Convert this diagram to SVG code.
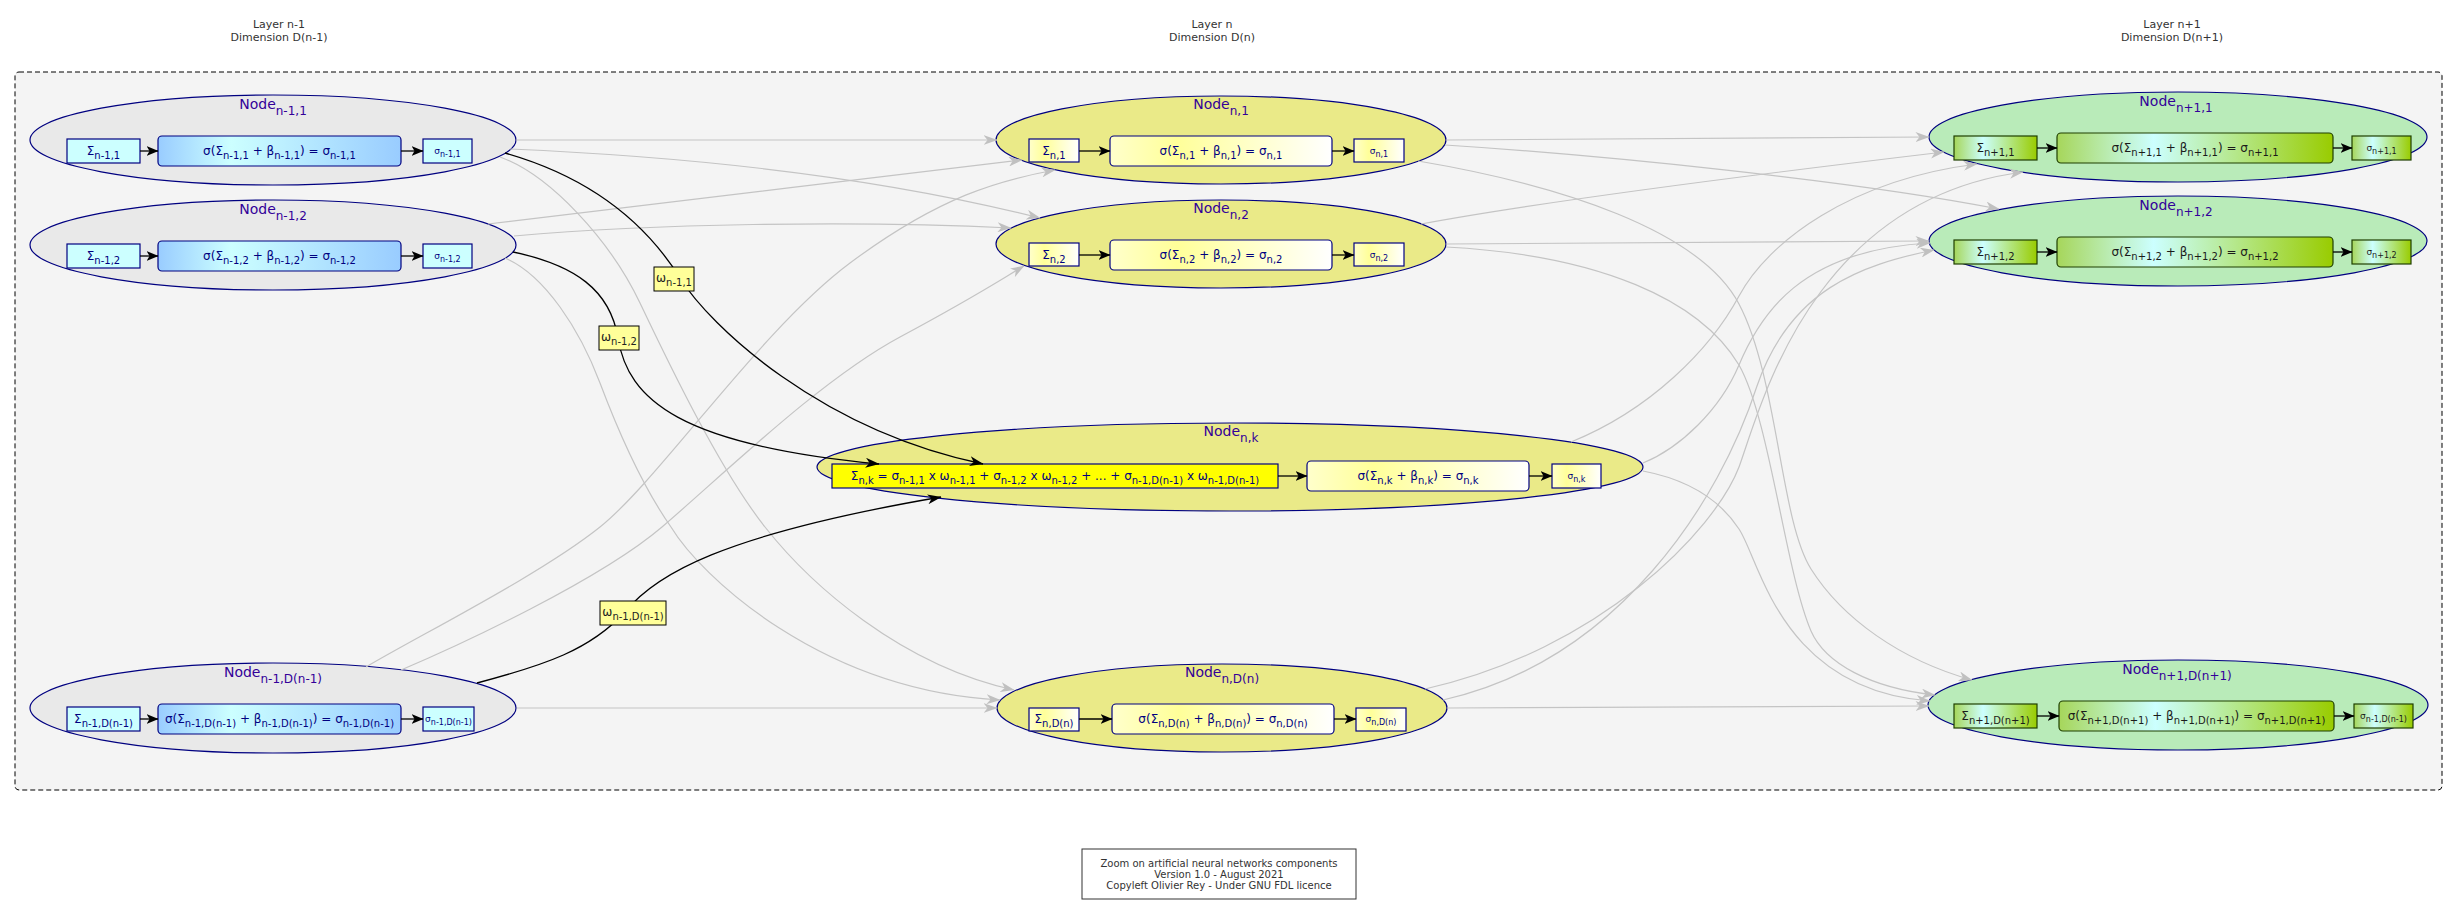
<svg xmlns="http://www.w3.org/2000/svg" width="2458" height="915" viewBox="0 0 2458 915">
<defs>
<linearGradient id="gBlue" x1="0" y1="0" x2="1" y2="0"><stop offset="0" stop-color="#99ccff"/><stop offset="0.3" stop-color="#ccffff"/><stop offset="1" stop-color="#99ccff"/></linearGradient>
<linearGradient id="gYel" x1="0" y1="0" x2="1" y2="0"><stop offset="0" stop-color="#ffffcc"/><stop offset="0.3" stop-color="#ffff99"/><stop offset="1" stop-color="#ffffff"/></linearGradient>
<linearGradient id="gGrn" x1="0" y1="0" x2="1" y2="0"><stop offset="0" stop-color="#a6d65a"/><stop offset="0.35" stop-color="#ccffff"/><stop offset="1" stop-color="#99cc00"/></linearGradient>
<marker id="ag" viewBox="0 0 14 10" refX="13.5" refY="5" markerWidth="14" markerHeight="10" markerUnits="userSpaceOnUse" orient="auto"><path d="M0,0 L14,5 L0,10 L4,5 Z" fill="#c0c0c0"/></marker>
<marker id="ak" viewBox="0 0 14 10" refX="13.5" refY="5" markerWidth="14" markerHeight="10" markerUnits="userSpaceOnUse" orient="auto"><path d="M0,0 L14,5 L0,10 L4,5 Z" fill="#000"/></marker>
<marker id="ai" viewBox="0 0 12 10" refX="11.5" refY="5" markerWidth="12" markerHeight="10" markerUnits="userSpaceOnUse" orient="auto"><path d="M0,0 L12,5 L0,10 L3,5 Z" fill="#000"/></marker>
</defs>
<style>
text{font-family:"DejaVu Sans","Liberation Sans",sans-serif}
.title{font-size:11px;fill:#333;text-anchor:middle}
.foot{font-size:10px;fill:#333;text-anchor:middle}
.el{fill:#e9e9e9;stroke:#000080;stroke-width:1.2}
.em{fill:#eaea88;stroke:#000080;stroke-width:1.2}
.er{fill:#b9ebb9;stroke:#000080;stroke-width:1.2}
.nl{font-size:14px;fill:#330099;text-anchor:middle}
.ns{font-size:12px}
.bl{fill:#ccffff;stroke:#000080;stroke-width:1.2}
.fl{fill:url(#gBlue);stroke:#000080;stroke-width:1.2}
.by{fill:url(#gYel);stroke:#000080;stroke-width:1.2}
.bk{fill:#ffff00;stroke:#000080;stroke-width:1.2}
.bg{fill:url(#gGrn);stroke:#1f3f00;stroke-width:1.2}
.bt{font-size:12px;fill:#000080;text-anchor:middle}
.gt{font-size:12px;fill:#1a1a1a;text-anchor:middle}
.bs{font-size:10px}
.ot{font-size:9px;fill:#000080;text-anchor:middle}
.og{font-size:9px;fill:#1a1a1a;text-anchor:middle}
.os{font-size:8px}
.cg{fill:none;stroke:#c4c4c4;stroke-width:1.2;marker-end:url(#ag)}
.ck{fill:none;stroke:#000;stroke-width:1.3;marker-end:url(#ak)}
.ia{stroke:#000;stroke-width:1.3;marker-end:url(#ai)}
.wb{fill:#ffff99;stroke:#000;stroke-width:1}
.wt{font-size:12px;fill:#222;text-anchor:middle}
.ws{font-size:10px}
</style>

<rect id="container" x="15" y="72" width="2427" height="718" rx="4" fill="#f4f4f4" stroke="#000" stroke-width="1" stroke-dasharray="5,3"/>

<g id="titles">
<text class="title" x="279" y="28">Layer n-1</text>
<text class="title" x="279" y="41">Dimension D(n-1)</text>
<text class="title" x="1212" y="28">Layer n</text>
<text class="title" x="1212" y="41">Dimension D(n)</text>
<text class="title" x="2172" y="28">Layer n+1</text>
<text class="title" x="2172" y="41">Dimension D(n+1)</text>
</g>

<g id="nodes">
<!-- Layer n-1 -->
<g id="node-nm1-1">
<ellipse class="el" cx="273" cy="140" rx="243" ry="45"/>
<text class="nl" x="273" y="109">Node<tspan class="ns" dy="6">n-1,1</tspan></text>
<rect class="bl" x="67" y="139" width="73" height="24"/>
<text class="bt" x="103.5" y="155">Σ<tspan class="bs" dy="4">n-1,1</tspan></text>
<rect class="fl" x="158" y="136" width="243" height="30" rx="4"/>
<text class="bt" x="279.5" y="155">σ(Σ<tspan class="bs" dy="4">n-1,1</tspan><tspan dy="-4"> + β</tspan><tspan class="bs" dy="4">n-1,1</tspan><tspan dy="-4">) = σ</tspan><tspan class="bs" dy="4">n-1,1</tspan></text>
<rect class="bl" x="423" y="139" width="49" height="24"/>
<text class="ot" x="447.5" y="154">σ<tspan class="os" dy="3">n-1,1</tspan></text>
<line class="ia" x1="140" y1="151" x2="158" y2="151"/>
<line class="ia" x1="401" y1="151" x2="423" y2="151"/>
</g>
<g id="node-nm1-2">
<ellipse class="el" cx="273" cy="245" rx="243" ry="45"/>
<text class="nl" x="273" y="214">Node<tspan class="ns" dy="6">n-1,2</tspan></text>
<rect class="bl" x="67" y="244" width="73" height="24"/>
<text class="bt" x="103.5" y="260">Σ<tspan class="bs" dy="4">n-1,2</tspan></text>
<rect class="fl" x="158" y="241" width="243" height="30" rx="4"/>
<text class="bt" x="279.5" y="260">σ(Σ<tspan class="bs" dy="4">n-1,2</tspan><tspan dy="-4"> + β</tspan><tspan class="bs" dy="4">n-1,2</tspan><tspan dy="-4">) = σ</tspan><tspan class="bs" dy="4">n-1,2</tspan></text>
<rect class="bl" x="423" y="244" width="49" height="24"/>
<text class="ot" x="447.5" y="259">σ<tspan class="os" dy="3">n-1,2</tspan></text>
<line class="ia" x1="140" y1="256" x2="158" y2="256"/>
<line class="ia" x1="401" y1="256" x2="423" y2="256"/>
</g>
<g id="node-nm1-D">
<ellipse class="el" cx="273" cy="708" rx="243" ry="45"/>
<text class="nl" x="273" y="677">Node<tspan class="ns" dy="6">n-1,D(n-1)</tspan></text>
<rect class="bl" x="67" y="707" width="73" height="24"/>
<text class="bt" x="103.5" y="723">Σ<tspan class="bs" dy="4">n-1,D(n-1)</tspan></text>
<rect class="fl" x="158" y="704" width="243" height="30" rx="4"/>
<text class="bt" x="279.5" y="723">σ(Σ<tspan class="bs" dy="4">n-1,D(n-1)</tspan><tspan dy="-4"> + β</tspan><tspan class="bs" dy="4">n-1,D(n-1)</tspan><tspan dy="-4">) = σ</tspan><tspan class="bs" dy="4">n-1,D(n-1)</tspan></text>
<rect class="bl" x="423" y="707" width="51" height="24"/>
<text class="ot" x="448.5" y="722">σ<tspan class="os" dy="3">n-1,D(n-1)</tspan></text>
<line class="ia" x1="140" y1="719" x2="158" y2="719"/>
<line class="ia" x1="401" y1="719" x2="423" y2="719"/>
</g>

<!-- Layer n -->
<g id="node-n-1">
<ellipse class="em" cx="1221" cy="140" rx="225" ry="44"/>
<text class="nl" x="1221" y="109">Node<tspan class="ns" dy="6">n,1</tspan></text>
<rect class="by" x="1029" y="139" width="50" height="23"/>
<text class="bt" x="1054" y="155">Σ<tspan class="bs" dy="4">n,1</tspan></text>
<rect class="by" x="1110" y="136" width="222" height="30" rx="4"/>
<text class="bt" x="1221" y="155">σ(Σ<tspan class="bs" dy="4">n,1</tspan><tspan dy="-4"> + β</tspan><tspan class="bs" dy="4">n,1</tspan><tspan dy="-4">) = σ</tspan><tspan class="bs" dy="4">n,1</tspan></text>
<rect class="by" x="1354" y="139" width="50" height="23"/>
<text class="ot" x="1379" y="154">σ<tspan class="os" dy="3">n,1</tspan></text>
<line class="ia" x1="1079" y1="151" x2="1110" y2="151"/>
<line class="ia" x1="1332" y1="151" x2="1354" y2="151"/>
</g>
<g id="node-n-2">
<ellipse class="em" cx="1221" cy="244" rx="225" ry="44"/>
<text class="nl" x="1221" y="213">Node<tspan class="ns" dy="6">n,2</tspan></text>
<rect class="by" x="1029" y="243" width="50" height="23"/>
<text class="bt" x="1054" y="259">Σ<tspan class="bs" dy="4">n,2</tspan></text>
<rect class="by" x="1110" y="240" width="222" height="30" rx="4"/>
<text class="bt" x="1221" y="259">σ(Σ<tspan class="bs" dy="4">n,2</tspan><tspan dy="-4"> + β</tspan><tspan class="bs" dy="4">n,2</tspan><tspan dy="-4">) = σ</tspan><tspan class="bs" dy="4">n,2</tspan></text>
<rect class="by" x="1354" y="243" width="50" height="23"/>
<text class="ot" x="1379" y="258">σ<tspan class="os" dy="3">n,2</tspan></text>
<line class="ia" x1="1079" y1="255" x2="1110" y2="255"/>
<line class="ia" x1="1332" y1="255" x2="1354" y2="255"/>
</g>
<g id="node-n-k">
<ellipse class="em" cx="1230" cy="467" rx="413" ry="44"/>
<text class="nl" x="1231" y="436">Node<tspan class="ns" dy="6">n,k</tspan></text>
<rect class="bk" x="832" y="464" width="446" height="24"/>
<text class="bt" x="1055" y="480">Σ<tspan class="bs" dy="4">n,k</tspan><tspan dy="-4"> = σ</tspan><tspan class="bs" dy="4">n-1,1</tspan><tspan dy="-4"> x ω</tspan><tspan class="bs" dy="4">n-1,1</tspan><tspan dy="-4"> + σ</tspan><tspan class="bs" dy="4">n-1,2</tspan><tspan dy="-4"> x ω</tspan><tspan class="bs" dy="4">n-1,2</tspan><tspan dy="-4"> + ... + σ</tspan><tspan class="bs" dy="4">n-1,D(n-1)</tspan><tspan dy="-4"> x ω</tspan><tspan class="bs" dy="4">n-1,D(n-1)</tspan></text>
<rect class="by" x="1307" y="461" width="222" height="30" rx="4"/>
<text class="bt" x="1418" y="480">σ(Σ<tspan class="bs" dy="4">n,k</tspan><tspan dy="-4"> + β</tspan><tspan class="bs" dy="4">n,k</tspan><tspan dy="-4">) = σ</tspan><tspan class="bs" dy="4">n,k</tspan></text>
<rect class="by" x="1552" y="464" width="49" height="24"/>
<text class="ot" x="1576.5" y="479">σ<tspan class="os" dy="3">n,k</tspan></text>
<line class="ia" x1="1278" y1="476" x2="1307" y2="476"/>
<line class="ia" x1="1529" y1="476" x2="1552" y2="476"/>
</g>
<g id="node-n-D">
<ellipse class="em" cx="1222" cy="708" rx="225" ry="44"/>
<text class="nl" x="1222" y="677">Node<tspan class="ns" dy="6">n,D(n)</tspan></text>
<rect class="by" x="1029" y="708" width="50" height="23"/>
<text class="bt" x="1054" y="723">Σ<tspan class="bs" dy="4">n,D(n)</tspan></text>
<rect class="by" x="1112" y="704" width="222" height="30" rx="4"/>
<text class="bt" x="1223" y="723">σ(Σ<tspan class="bs" dy="4">n,D(n)</tspan><tspan dy="-4"> + β</tspan><tspan class="bs" dy="4">n,D(n)</tspan><tspan dy="-4">) = σ</tspan><tspan class="bs" dy="4">n,D(n)</tspan></text>
<rect class="by" x="1356" y="708" width="50" height="23"/>
<text class="ot" x="1381" y="722">σ<tspan class="os" dy="3">n,D(n)</tspan></text>
<line class="ia" x1="1079" y1="719" x2="1112" y2="719"/>
<line class="ia" x1="1334" y1="719" x2="1356" y2="719"/>
</g>

<!-- Layer n+1 -->
<g id="node-np1-1">
<ellipse class="er" cx="2178" cy="137" rx="249" ry="45"/>
<text class="nl" x="2176" y="106">Node<tspan class="ns" dy="6">n+1,1</tspan></text>
<rect class="bg" x="1954" y="136" width="83" height="24"/>
<text class="gt" x="1995.5" y="152">Σ<tspan class="bs" dy="4">n+1,1</tspan></text>
<rect class="bg" x="2057" y="133" width="276" height="30" rx="4"/>
<text class="gt" x="2195" y="152">σ(Σ<tspan class="bs" dy="4">n+1,1</tspan><tspan dy="-4"> + β</tspan><tspan class="bs" dy="4">n+1,1</tspan><tspan dy="-4">) = σ</tspan><tspan class="bs" dy="4">n+1,1</tspan></text>
<rect class="bg" x="2352" y="136" width="59" height="24"/>
<text class="og" x="2381.5" y="151">σ<tspan class="os" dy="3">n+1,1</tspan></text>
<line class="ia" x1="2037" y1="148" x2="2057" y2="148"/>
<line class="ia" x1="2333" y1="148" x2="2352" y2="148"/>
</g>
<g id="node-np1-2">
<ellipse class="er" cx="2178" cy="241" rx="249" ry="45"/>
<text class="nl" x="2176" y="210">Node<tspan class="ns" dy="6">n+1,2</tspan></text>
<rect class="bg" x="1954" y="240" width="83" height="24"/>
<text class="gt" x="1995.5" y="256">Σ<tspan class="bs" dy="4">n+1,2</tspan></text>
<rect class="bg" x="2057" y="237" width="276" height="30" rx="4"/>
<text class="gt" x="2195" y="256">σ(Σ<tspan class="bs" dy="4">n+1,2</tspan><tspan dy="-4"> + β</tspan><tspan class="bs" dy="4">n+1,2</tspan><tspan dy="-4">) = σ</tspan><tspan class="bs" dy="4">n+1,2</tspan></text>
<rect class="bg" x="2352" y="240" width="59" height="24"/>
<text class="og" x="2381.5" y="255">σ<tspan class="os" dy="3">n+1,2</tspan></text>
<line class="ia" x1="2037" y1="252" x2="2057" y2="252"/>
<line class="ia" x1="2333" y1="252" x2="2352" y2="252"/>
</g>
<g id="node-np1-D">
<ellipse class="er" cx="2178" cy="705" rx="250" ry="45"/>
<text class="nl" x="2177" y="674">Node<tspan class="ns" dy="6">n+1,D(n+1)</tspan></text>
<rect class="bg" x="1954" y="704" width="83" height="24"/>
<text class="gt" x="1995.5" y="720">Σ<tspan class="bs" dy="4">n+1,D(n+1)</tspan></text>
<rect class="bg" x="2059" y="701" width="275" height="30" rx="4"/>
<text class="gt" x="2196.5" y="720">σ(Σ<tspan class="bs" dy="4">n+1,D(n+1)</tspan><tspan dy="-4"> + β</tspan><tspan class="bs" dy="4">n+1,D(n+1)</tspan><tspan dy="-4">) = σ</tspan><tspan class="bs" dy="4">n+1,D(n+1)</tspan></text>
<rect class="bg" x="2354" y="704" width="59" height="24"/>
<text class="og" x="2383.5" y="719">σ<tspan class="os" dy="3">n-1,D(n-1)</tspan></text>
<line class="ia" x1="2037" y1="716" x2="2059" y2="716"/>
<line class="ia" x1="2334" y1="716" x2="2354" y2="716"/>
</g>
</g>

<g id="connectors">
<path class="cg" d="M516,140 L997,140"/>
<path class="cg" d="M510,149 C650,155 850,170 1040,218"/>
<path class="cg" d="M500,157 C550,175 610,240 640,303 C670,366 720,470 765,527 C810,584 900,665 1014,690"/>
<path class="cg" d="M488,224 C650,205 850,180 1022,160"/>
<path class="cg" d="M514,236 C650,224 850,220 1011,228"/>
<path class="cg" d="M505,258 C545,275 580,330 600,383 C620,436 645,490 671,527 C700,575 820,690 1000,700"/>
<path class="cg" d="M366,667 C420,635 540,575 600,527 C660,479 760,330 850,263 C940,196 1000,180 1055,170"/>
<path class="cg" d="M401,670 C460,645 600,580 662,527 C724,474 820,380 900,337 C980,294 1000,280 1024,266"/>
<path class="cg" d="M517,708 L997,708"/>

<path class="cg" d="M1446,140 L1929,137"/>
<path class="cg" d="M1445,145 C1600,155 1850,180 1999,209"/>
<path class="cg" d="M1418,161 C1560,185 1700,230 1739,304 C1778,378 1780,520 1811,569 C1842,618 1900,660 1972,680"/>
<path class="cg" d="M1421,224 C1550,200 1750,175 1944,152"/>
<path class="cg" d="M1446,244 L1929,241"/>
<path class="cg" d="M1446,247 C1600,255 1700,300 1739,365 C1770,420 1785,570 1811,631 C1825,663 1870,688 1935,695"/>
<path class="cg" d="M1571,442 C1650,410 1710,350 1739,296 C1768,242 1850,180 1977,164"/>
<path class="cg" d="M1643,463 C1680,448 1720,410 1739,365 C1760,315 1800,250 1930,243"/>
<path class="cg" d="M1643,471 C1690,480 1720,500 1739,529 C1760,560 1780,690 1930,701"/>
<path class="cg" d="M1425,689 C1600,650 1715,530 1739,467 C1760,410 1810,200 2023,172"/>
<path class="cg" d="M1443,700 C1620,660 1720,500 1757,386 C1790,290 1860,265 1934,250"/>
<path class="cg" d="M1447,708 L1929,706"/>

<path class="ck" d="M505,153 C600,180 650,230 680,278 C710,326 820,430 983,464"/>
<path class="ck" d="M513,252 C575,265 610,290 618,338 C628,400 680,445 879,464"/>
<path class="ck" d="M477,683 C545,665 590,650 625,612 C655,575 720,535 941,497"/>

<g id="weight-1"><rect class="wb" x="654" y="267" width="40" height="24"/><text class="wt" x="674" y="282">ω<tspan class="ws" dy="4">n-1,1</tspan></text></g>
<g id="weight-2"><rect class="wb" x="599" y="326" width="40" height="24"/><text class="wt" x="619" y="341">ω<tspan class="ws" dy="4">n-1,2</tspan></text></g>
<g id="weight-D"><rect class="wb" x="600" y="601" width="66" height="24"/><text class="wt" x="633" y="616">ω<tspan class="ws" dy="4">n-1,D(n-1)</tspan></text></g>
</g>

<g id="footer">
<rect x="1082" y="849" width="274" height="50" fill="#fff" stroke="#333" stroke-width="1"/>
<text class="foot" x="1219" y="867">Zoom on artificial neural networks components</text>
<text class="foot" x="1219" y="878">Version 1.0 - August 2021</text>
<text class="foot" x="1219" y="889">Copyleft Olivier Rey - Under GNU FDL licence</text>
</g>
</svg>
